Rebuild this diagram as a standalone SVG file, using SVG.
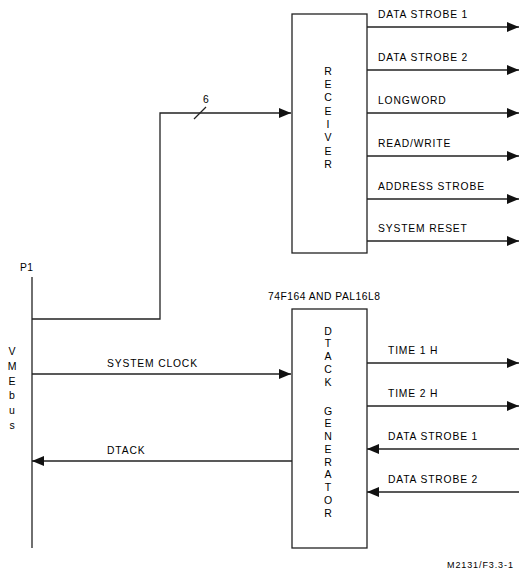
<svg xmlns="http://www.w3.org/2000/svg" width="530" height="578" viewBox="0 0 530 578">
<style>
text{font-family:"Liberation Sans",Arial,sans-serif;font-size:10.3px;fill:#000;letter-spacing:0.85px}
.ln{stroke:#222;stroke-width:1.3;fill:none}
.box{stroke:#222;stroke-width:1.3;fill:#fff}
.v{text-anchor:middle;letter-spacing:0;font-size:10.5px}
</style>
<defs>
<marker id="ah" markerUnits="userSpaceOnUse" markerWidth="12" markerHeight="10" refX="12" refY="5" orient="auto">
<path d="M0,0 L12,5 L0,10 z" fill="#111"/>
</marker>
</defs>
<rect width="530" height="578" fill="#fff"/>
<g id="connectors">
<line class="ln" x1="32" y1="277" x2="32" y2="548"/>
<polyline class="ln" points="32,319 160,319 160,113 291,113" marker-end="url(#ah)"/>
<line class="ln" x1="194" y1="119" x2="206" y2="107"/>
<line class="ln" x1="32" y1="374" x2="291" y2="374" marker-end="url(#ah)"/>
<line class="ln" x1="292" y1="461" x2="32" y2="461" marker-end="url(#ah)"/>
<line class="ln" x1="367" y1="27" x2="519" y2="27" marker-end="url(#ah)"/>
<line class="ln" x1="367" y1="70" x2="519" y2="70" marker-end="url(#ah)"/>
<line class="ln" x1="367" y1="113" x2="519" y2="113" marker-end="url(#ah)"/>
<line class="ln" x1="367" y1="156" x2="519" y2="156" marker-end="url(#ah)"/>
<line class="ln" x1="367" y1="199" x2="519" y2="199" marker-end="url(#ah)"/>
<line class="ln" x1="367" y1="241" x2="519" y2="241" marker-end="url(#ah)"/>
<line class="ln" x1="367" y1="363" x2="519" y2="363" marker-end="url(#ah)"/>
<line class="ln" x1="367" y1="406" x2="519" y2="406" marker-end="url(#ah)"/>
<line class="ln" x1="519" y1="449" x2="367" y2="449" marker-end="url(#ah)"/>
<line class="ln" x1="519" y1="492" x2="367" y2="492" marker-end="url(#ah)"/>
<text x="203" y="103" style="letter-spacing:0">6</text>
<text x="107" y="367">SYSTEM CLOCK</text>
<text x="107" y="454">DTACK</text>
<text x="378" y="18">DATA STROBE 1</text>
<text x="378" y="61">DATA STROBE 2</text>
<text x="378" y="104">LONGWORD</text>
<text x="378" y="147">READ/WRITE</text>
<text x="378" y="190">ADDRESS STROBE</text>
<text x="378" y="232">SYSTEM RESET</text>
<text x="388" y="354">TIME 1 H</text>
<text x="388" y="397">TIME 2 H</text>
<text x="388" y="440">DATA STROBE 1</text>
<text x="388" y="483">DATA STROBE 2</text>
</g>
<g id="vmebus">
<text x="20" y="271" style="letter-spacing:0.5px">P1</text>
<text class="v" x="12" y="355">V</text>
<text class="v" x="12" y="370">M</text>
<text class="v" x="12" y="385">E</text>
<text class="v" x="12" y="399">b</text>
<text class="v" x="12" y="414">u</text>
<text class="v" x="12" y="429">s</text>
</g>
<g id="receiver">
<rect class="box" x="292" y="14" width="75" height="239"/>
<text class="v" x="328" y="75">R</text>
<text class="v" x="328" y="88">E</text>
<text class="v" x="328" y="101">C</text>
<text class="v" x="328" y="115">E</text>
<text class="v" x="328" y="128">I</text>
<text class="v" x="328" y="141">V</text>
<text class="v" x="328" y="155">E</text>
<text class="v" x="328" y="168">R</text>
</g>
<g id="dtack-generator">
<text x="268" y="300" style="letter-spacing:0.5px">74F164 AND PAL16L8</text>
<rect class="box" x="292" y="309" width="75" height="239"/>
<text class="v" x="328" y="335">D</text>
<text class="v" x="328" y="347">T</text>
<text class="v" x="328" y="360">A</text>
<text class="v" x="328" y="373">C</text>
<text class="v" x="328" y="386">K</text>
<text class="v" x="328" y="415">G</text>
<text class="v" x="328" y="427">E</text>
<text class="v" x="328" y="440">N</text>
<text class="v" x="328" y="453">E</text>
<text class="v" x="328" y="466">R</text>
<text class="v" x="328" y="478">A</text>
<text class="v" x="328" y="491">T</text>
<text class="v" x="328" y="504">O</text>
<text class="v" x="328" y="517">R</text>
</g>
<text x="447" y="568" style="font-size:9px;letter-spacing:0.9px">M2131/F3.3-1</text>
</svg>
